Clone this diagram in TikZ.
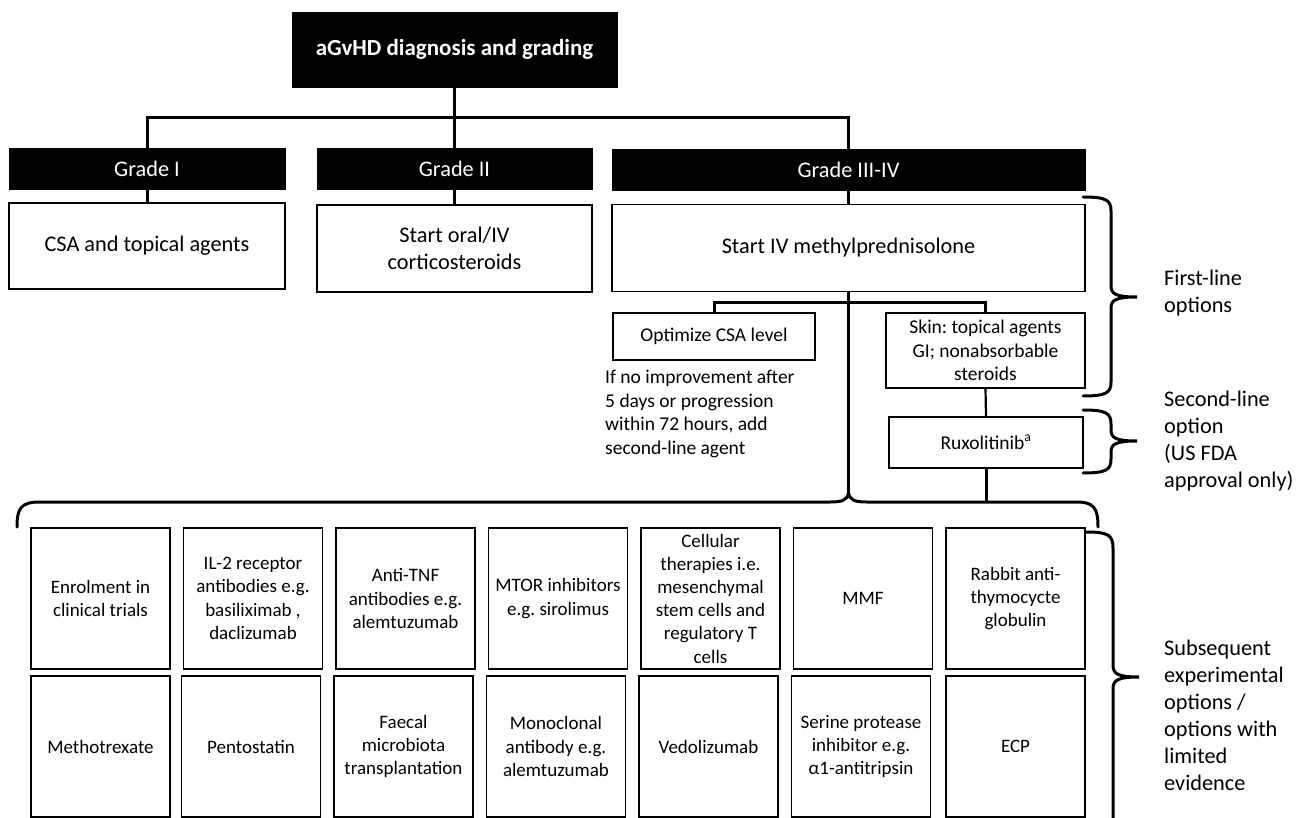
\documentclass[tikz,border=0pt]{standalone}
\usepackage{fontspec}
\setmainfont{Carlito}
\frenchspacing
\newcommand\fbig{\fontsize{22.3}{27}\selectfont}
\newcommand\fmid{\fontsize{19.5}{23.5}\selectfont}
\newcommand\fsm{\fontsize{19}{23.2}\selectfont}
\tikzset{
  blk/.style={fill=black, draw=black, text=white, inner sep=0pt, align=center, font=\fbig},
  wbox/.style={draw=black, line width=1.3pt, fill=white, inner sep=0pt, align=center, font=\fbig},
  mbox/.style={wbox, font=\fmid},
  sbox/.style={wbox, font=\fsm, minimum width=139pt, minimum height=141pt},
  conn/.style={line width=3pt},
  thin conn/.style={line width=2.2pt},
  brace/.style={line width=3pt, line cap=round},
  lbl/.style={anchor=west, align=left, font=\fbig, inner sep=0pt}
}
\newcommand\sidebrace[5]{% top, bottom, tip y, x-end, x-vertical
  \draw[brace] (#4,#1) .. controls (#5-5,#1) and (#5,#1+3) .. (#5,#1+14) -- (#5,#3-11)
    .. controls (#5,#3-3) and (#5+5,#3) .. (#5+26,#3)
    .. controls (#5+5,#3) and (#5,#3+3) .. (#5,#3+11) -- (#5,#2-14)
    .. controls (#5,#2-3) and (#5-5,#2) .. (#4,#2);}
\begin{document}
\begin{tikzpicture}[x=1pt,y=-1pt]
\useasboundingbox (0,0) rectangle (1307,818);
\fill[white] (0,0) rectangle (1307,818);
% top
\node[blk, font=\fontsize{23}{27}\selectfont\bfseries, minimum width=325pt, minimum height=75pt] (top) at (454.5,49.5) {aGvHD diagnosis and grading};
% grades
\node[blk, minimum width=276pt, minimum height=41pt] (g1) at (147,169) {Grade I};
\node[blk, minimum width=275pt, minimum height=41pt] (g2) at (454.5,169) {Grade II};
\node[blk, minimum width=473pt, minimum height=41pt] (g3) at (848.5,169.5) {Grade III-IV};
% second row
\node[wbox, minimum width=276pt, minimum height=86pt] (csa) at (147,246) {CSA and topical agents};
\node[wbox, minimum width=275pt, minimum height=87pt] (cort) at (454.5,248.5) {Start oral/IV\\corticosteroids};
\node[wbox, minimum width=473pt, minimum height=87pt] (mp) at (848.5,248) {Start IV methylprednisolone};
% third level
\node[mbox, minimum width=202pt, minimum height=47pt] (opt) at (714,336.5) {Optimize CSA level};
\node[mbox, minimum width=199pt, minimum height=75pt] (skin) at (985.5,350.5) {Skin: topical agents\\GI; nonabsorbable\\steroids};
\node[mbox, minimum width=194pt, minimum height=51pt] (rux) at (986,442.5) {Ruxolitinib\textsuperscript{a}};
\node[anchor=west, align=left, font=\fmid, inner sep=0pt] (note) at (605,414) {If no improvement after\\5 days or progression\\within 72 hours, add\\second-line agent};
% coordinates
\coordinate (hl) at (454.5,118);
\coordinate (b1) at (848.5,303);
\coordinate (tip) at (848.5,494);
\coordinate (bh) at (986,502);
% connectors
\draw[conn] (top.south) -- (g2.north);
\draw[conn] (g1.north) -- (g1.north |- hl) -- (g3.north |- hl) -- (g3.north);
\draw[conn] (g1.south) -- (csa.north);
\draw[conn] (g2.south) -- (cort.north);
\draw[conn] (g3.south) -- (mp.north);
\draw[conn] (opt.north) |- (b1) -| (skin.north);
\draw[conn] (mp.south) -- (tip);
\draw[thin conn] (skin.south) -- (rux.north);
\draw[conn] (rux.south) -- (bh);
% bottom brace
\draw[brace] (17,527) .. controls (17,508) and (21,502) .. (40,502) -- (830,502)
  .. controls (843,502) and (847,500) .. (848.5,493)
  .. controls (850,500) and (854,502) .. (867,502) -- (1076,502)
  .. controls (1094,502) and (1098,508) .. (1098,527);
% right braces
\sidebrace{197}{396}{297}{1083}{1111}
\sidebrace{410}{473}{441}{1083}{1111}
\draw[brace] (1086,532) .. controls (1108,532) and (1113,535) .. (1113,548) -- (1113,665)
  .. controls (1113,674) and (1118,677) .. (1139,677)
  .. controls (1118,677) and (1113,680) .. (1113,689) -- (1113,830);
\node[lbl] (l1) at (1164,293) {First-line\\options};
\node[lbl] (l2) at (1164,441) {Second-line\\option\\(US FDA\\approval only)};
\node[lbl] (l3) at (1164,715) {Subsequent\\experimental\\options /\\options with\\limited\\evidence};
% bottom boxes row 1
\node[sbox] (a1) at (100.5,598.5) {Enrolment in\\clinical trials};
\node[sbox] (a2) at (253,598.5) {IL-2 receptor\\antibodies e.g.\\basiliximab ,\\daclizumab};
\node[sbox] (a3) at (405.5,598.5) {Anti-TNF\\antibodies e.g.\\alemtuzumab};
\node[sbox] (a4) at (558,598.5) {MTOR inhibitors\\e.g. sirolimus};
\node[sbox] (a5) at (710.5,598.5) {Cellular\\therapies i.e.\\mesenchymal\\stem cells and\\regulatory T\\cells};
\node[sbox] (a6) at (863,598.5) {MMF};
\node[sbox] (a7) at (1015.5,598.5) {Rabbit anti-\\thymocycte\\globulin};
% row 2
\node[sbox] (c1) at (100.5,746.5) {Methotrexate};
\node[sbox] (c2) at (251,746.5) {Pentostatin};
\node[sbox] (c3) at (403.5,746.5) {Faecal\\microbiota\\transplantation};
\node[sbox] (c4) at (556,746.5) {Monoclonal\\antibody e.g.\\alemtuzumab};
\node[sbox] (c5) at (708.5,746.5) {Vedolizumab};
\node[sbox] (c6) at (861,746.5) {Serine protease\\inhibitor e.g.\\α1-antitripsin};
\node[sbox] (c7) at (1015.5,746.5) {ECP};
\end{tikzpicture}
\end{document}
